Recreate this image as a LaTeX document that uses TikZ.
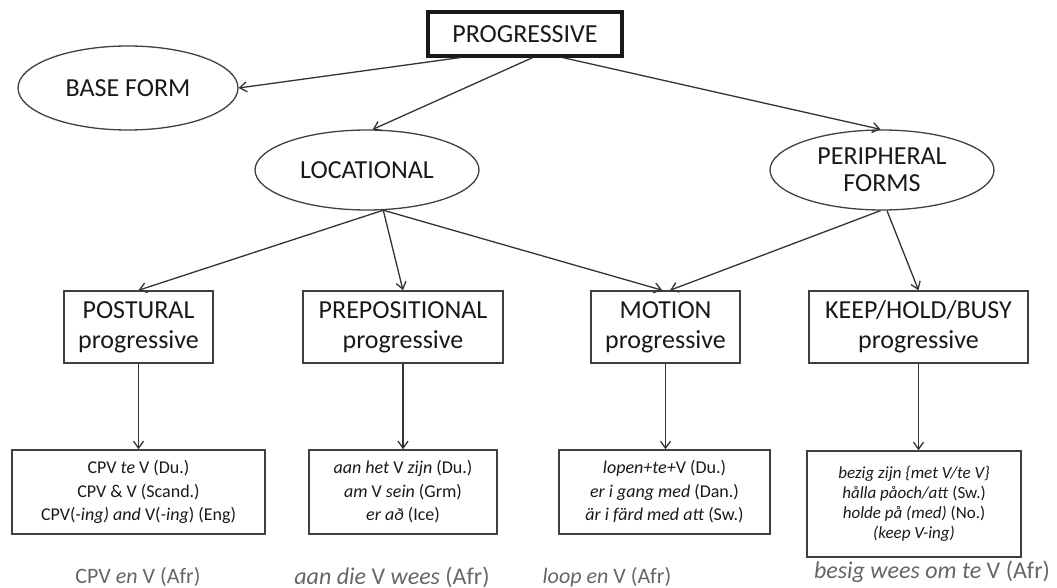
\documentclass[tikz,border=0pt]{standalone}
\usepackage{fontspec}
\setmainfont{Carlito}
\usetikzlibrary{shapes.geometric,arrows.meta}

\begin{document}
\begin{tikzpicture}[x=0.5pt,y=-0.5pt,
	every node/.style={text=black!90},
	conn/.style={draw=black!80,line width=0.65pt,-{Straight Barb[length=3.5pt,width=5pt]}},
	progbox/.style={draw=black!90,line width=1.6pt,minimum width=97pt,minimum height=22pt,inner sep=1pt,font=\fontsize{13}{15}\selectfont},
	formell/.style={draw=black!75,line width=0.65pt,ellipse,inner sep=0pt,minimum width=112pt,minimum height=40pt,align=center,font=\fontsize{13}{13.5}\selectfont},
	typebox/.style={draw=black!75,line width=0.75pt,minimum height=36pt,inner sep=1pt,align=center,font=\fontsize{13}{15}\selectfont},
	exbox/.style={draw=black!75,line width=0.75pt,minimum height=42pt,inner sep=1pt,align=center,font=\fontsize{9}{11.7}\selectfont},
	afrlabel/.style={text=black!60,font=\fontsize{11}{13}\selectfont}]
	\useasboundingbox (0,0) rectangle (1057,588);
	
	%TOP
	\node[progbox] (prog) at (525,34) {PROGRESSIVE};
	\node[formell,minimum width=110pt,minimum height=42pt] (base) at (128,88) {BASE FORM};
	\node[formell] (loc) at (367,170) {LOCATIONAL};
	\node[formell] (peri) at (882,170) {PERIPHERAL\\FORMS};
	
	%TYPES
	\node[typebox,minimum width=74.5pt] (post) at (138.5,327) {POSTURAL\\progressive};
	\node[typebox,minimum width=100pt] (prep) at (403,327) {PREPOSITIONAL\\progressive};
	\node[typebox,minimum width=74.5pt] (mot) at (665.5,327) {MOTION\\progressive};
	\node[typebox,minimum width=109.5pt] (keep) at (918.5,327) {KEEP/HOLD/BUSY\\progressive};
	
	%EXAMPLES
	\node[exbox,minimum width=126.5pt] (expost) at (138.5,492) {CPV \textit{te} V (Du.)\\CPV \& V (Scand.)\\CPV(\textit{-ing) and} V(\textit{-ing}) (Eng)};
	\node[exbox,minimum width=94pt] (exprep) at (403,492) {\textit{aan het} V \textit{zijn} (Du.)\\\textit{am} V \textit{sein} (Grm)\\\textit{er að} (Ice)};
	\node[exbox,minimum width=105.5pt] (exmot) at (664.5,492) {\textit{lopen+te+}V (Du.)\\\textit{er i gang med} (Dan.)\\\textit{är i färd med att} (Sw.)};
	\node[exbox,minimum width=107pt,minimum height=53pt,font=\fontsize{8.5}{10}\selectfont] (exkeep) at (914,504) {\textit{bezig zijn \{met V/te V\}}\\\textit{hålla påoch/att} (Sw.)\\\textit{holde på (med)} (No.)\\\textit{(keep V-ing)}};
	
	%AFRIKAANS
	\node[afrlabel] (afrpost) at (138,577) {CPV \textit{en} V (Afr)};
	\node[afrlabel,font=\fontsize{12}{13}\selectfont] (afrprep) at (392,577) {\textit{aan die} V \textit{wees} (Afr)};
	\node[afrlabel] (afrmot) at (607,577) {\textit{loop en} V (Afr)};
	\node[afrlabel,font=\fontsize{12}{13}\selectfont] (afrkeep) at (932,572) {\textit{besig wees om te} V (Afr)};
	
	%LINES
	\draw[conn] (prog.200)--(base.east);
	\draw[conn] (prog.288)--(loc.82);
	\draw[conn] (prog.328)--(peri.92);
	\foreach \w/\a in {post/north,prep/north,mot/95} \draw[conn] (loc.292)--(\w.\a);
	\draw[conn] (peri.268)--(mot.83);
	\draw[conn] (peri.277)--(keep.north);
	\draw[conn] (post.south)--(expost.north);
	\draw[conn] (prep.south)--(exprep.north);
	\draw[conn] (mot.south)--(mot.south |- exmot.north);
	\draw[conn] (keep.south)--(keep.south |- exkeep.north);
\end{tikzpicture}
\end{document}
